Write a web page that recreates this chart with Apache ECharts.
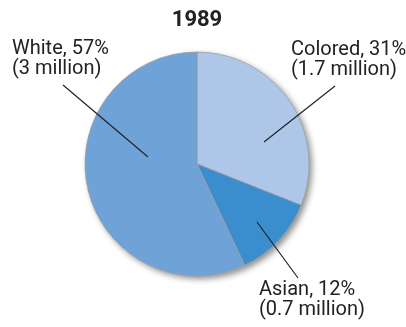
<!DOCTYPE html>
<html><head><meta charset="utf-8">
<script src="https://cdn.jsdelivr.net/npm/echarts@6/dist/echarts.min.js"></script>
<style>html,body{margin:0;padding:0;background:#fff}#c{width:406px;height:327px}</style>
</head><body><div id="c"></div>
<script>
const title = '1989';
const categories = ['Colored', 'Asian', 'White'];
const percents = [31, 12, 57];
const millions = ['1.7', '0.7', '3'];
const colors = ['#aec7e8', '#3a8ece', '#6fa3d8'];

// annotation layout: label top-left and leader line endpoints (pixels)
const labelPos = [[291, 40], [259, 280], [12, 39]];
const linePts = [
  [[335, 86], [264, 142]],
  [[298, 278], [257, 222]],
  [[63, 85], [148, 157]]
];

const chart = echarts.init(document.getElementById('c'));
const CENTER = [197, 164], R = 112;
chart.setOption({
  animation: false,
  title: {
    text: title, left: 197, top: 9, textAlign: 'center', padding: 0,
    textStyle: { fontFamily: 'Roboto', fontWeight: 'bold', fontSize: 22, color: '#222' }
  },
  graphic: linePts.map(pts => ({
    type: 'polyline', z: 100, silent: true,
    shape: { points: pts },
    style: { stroke: '#222', lineWidth: 1.2, fill: null }
  })),
  series: [
    {
      type: 'pie', silent: true, center: CENTER, radius: R, z: 1,
      label: { show: false }, labelLine: { show: false },
      itemStyle: { color: '#fff', shadowBlur: 6, shadowOffsetX: 3, shadowOffsetY: 3, shadowColor: 'rgba(0,0,0,0.45)' },
      data: [{ value: 1, name: 'bg' }]
    },
    {
      type: 'pie', center: CENTER, radius: R, startAngle: 90, clockwise: true, z: 2,
      avoidLabelOverlap: false,
      itemStyle: { borderColor: '#9a9a9a', borderWidth: 0.8 },
      data: categories.map((n, i) => ({ name: n, value: percents[i], itemStyle: { color: colors[i] } })),
      label: {
        show: true, position: 'outside',
        formatter: p => `${p.name}, ${percents[p.dataIndex]}%\n(${millions[p.dataIndex]} million)`,
        fontFamily: 'Roboto', fontSize: 20, lineHeight: 20, color: '#222'
      },
      labelLine: { show: false },
      labelLayout: p => ({
        x: labelPos[p.dataIndex][0], y: labelPos[p.dataIndex][1],
        align: 'left', verticalAlign: 'top'
      })
    }
  ]
});
</script></body></html>
